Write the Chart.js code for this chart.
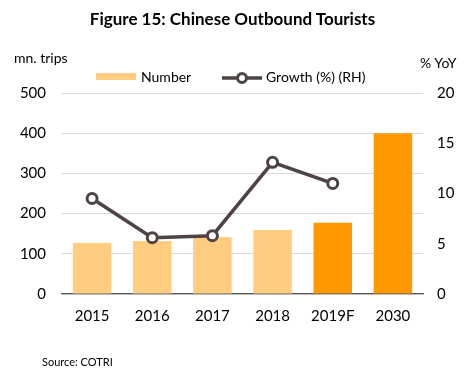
<!DOCTYPE html>
<html><head><meta charset="utf-8">
<script src="https://cdn.jsdelivr.net/npm/chart.js@4"></script>
<style>
html,body{margin:0;padding:0;background:#fff;}
#wrap{position:relative;width:465px;height:377px;overflow:hidden;font-family:Lato,"Liberation Sans",sans-serif;color:#000;}
canvas{position:absolute;left:0;top:0;}
.t{position:absolute;white-space:nowrap;}
</style></head>
<body><div id="wrap">
<canvas id="c" width="465" height="377"></canvas>
<div class="t" style="left:0;width:465px;text-align:center;top:8px;font-size:17px;font-weight:bold;">Figure 15: Chinese Outbound Tourists</div>
<div class="t" style="left:14px;top:49px;font-size:14px;">mn. trips</div>
<div class="t" style="left:420px;top:54px;font-size:14px;">% YoY</div>
<div class="t" style="left:96px;top:73px;width:40px;height:7px;background:#FFCC80;"></div>
<div class="t" style="left:141px;top:68px;font-size:14px;">Number</div>
<svg class="t" style="left:220px;top:70px;" width="44" height="16"><line x1="2" y1="8" x2="42" y2="8" stroke="#4F4343" stroke-width="3.5"/><circle cx="22" cy="8" r="4.5" fill="#fff" stroke="#4F4343" stroke-width="3"/></svg>
<div class="t" style="left:266px;top:68px;font-size:14px;">Growth (%) (RH)</div>
<div class="t" style="left:42px;top:355px;font-size:11px;">Source: COTRI</div>
</div>
<script>
const categories = ["2015","2016","2017","2018","2019F","2030"];
const numberTrips = [127, 132, 142, 159, 177, 400];
const growthPct = [9.5, 5.6, 5.8, 13.1, 11.0, null];
const barColors = ["#FFCC80","#FFCC80","#FFCC80","#FFCC80","#FF9900","#FF9900"];
const leftTicks = [0,100,200,300,400,500];
const rightTicks = [0,5,10,15,20];

const tickFont = {family:"Lato, 'Liberation Sans', sans-serif", size:15};
new Chart(document.getElementById('c'), {
  data: {
    labels: categories,
    datasets: [
      {type:'line', label:'Growth (%) (RH)', data: growthPct, yAxisID:'y2',
       borderColor:'#4F4343', borderWidth:3.5, pointRadius:5, pointBorderWidth:3,
       pointBackgroundColor:'#fff', pointBorderColor:'#4F4343', tension:0, order:0, spanGaps:false},
      {type:'bar', label:'Number', data: numberTrips, yAxisID:'y',
       backgroundColor: barColors, barPercentage:0.64, categoryPercentage:1, order:1}
    ]
  },
  options: {
    responsive:false, animation:false,
    layout:{padding:{top:93,left:0,right:0,bottom:0}},
    plugins:{legend:{display:false}, title:{display:false}, tooltip:{enabled:false}},
    scales:{
      x:{grid:{display:false, drawTicks:false}, border:{color:'#595959', width:1.3},
         ticks:{font:tickFont, color:'#000', padding:13},
         afterFit:s=>{s.height=83;}},
      y:{position:'left', min:0, max:500, afterBuildTicks:s=>{s.ticks=leftTicks.map(v=>({value:v}));},
         grid:{color:'#D9D9D9', drawTicks:false}, border:{display:false},
         ticks:{font:tickFont, color:'#000', padding:16},
         afterFit:s=>{s.width=62;}},
      y2:{position:'right', min:0, max:20, afterBuildTicks:s=>{s.ticks=rightTicks.map(v=>({value:v}));},
         grid:{display:false, drawTicks:false}, border:{display:false},
         ticks:{font:tickFont, color:'#000', padding:14},
         afterFit:s=>{s.width=42;}}
    }
  }
});
</script>
</body></html>
